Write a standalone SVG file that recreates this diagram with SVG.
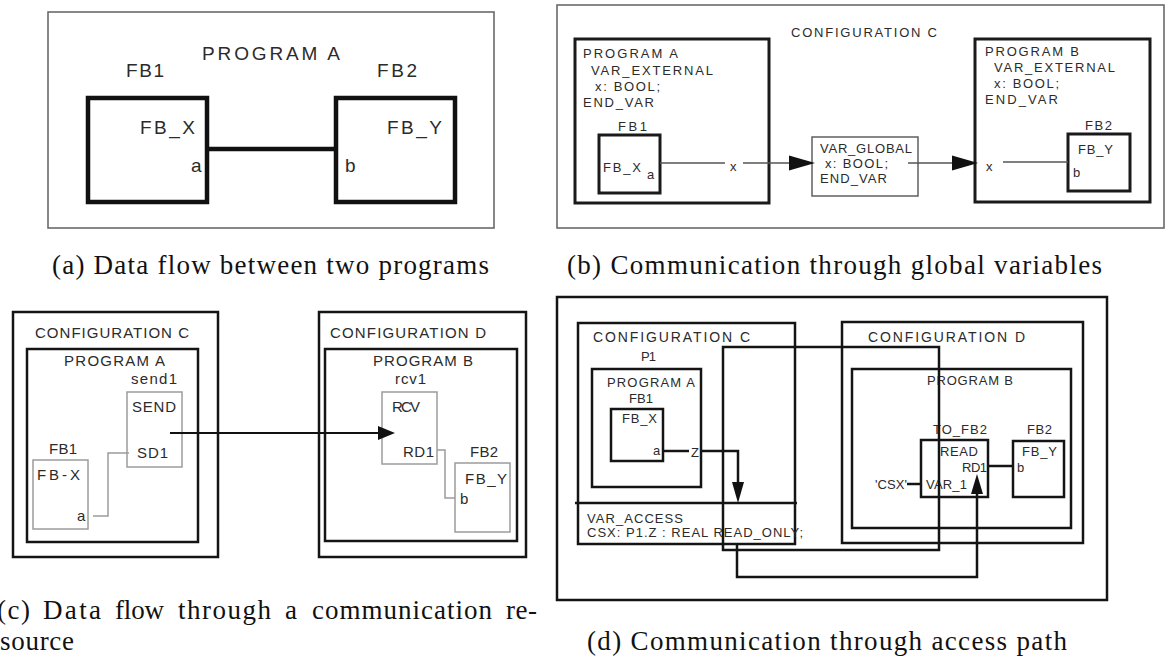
<svg xmlns="http://www.w3.org/2000/svg" width="1166" height="657" viewBox="0 0 1166 657">
  <style>
    .t{font-family:"Liberation Sans",Arial,Helvetica,sans-serif;fill:#2b2b2b}
    .cap{font-family:"Liberation Serif","Times New Roman",serif;font-size:27px;fill:#111}
    .frame{fill:none;stroke:#6a6a6a;stroke-width:1.6}
    .heavy{fill:none;stroke:#111;stroke-width:4.5}
    .bold{fill:none;stroke:#1a1a1a;stroke-width:3}
    .mid{fill:none;stroke:#141414;stroke-width:2.5}
    .thin{fill:none;stroke:#555;stroke-width:1.4}
    .faint{fill:none;stroke:#9c9c9c;stroke-width:1.5}
    .ah{fill:#111}
    .s19{font-size:19px}
    .s12{font-size:13px}
    .s15{font-size:15px}
    .s13{font-size:13px}
  </style>
  <rect width="1166" height="657" fill="#fff"/>

  <!-- ===== (a) data flow between two programs ===== -->
  <g id="a-program">
    <rect class="frame" x="48" y="12" width="446" height="216"/>
    <text class="t s19" x="202" y="60" textLength="138">PROGRAM A</text>
  </g>
  <g id="a-fb1">
    <text class="t s19" x="126" y="77" textLength="38">FB1</text>
    <rect class="heavy" x="88" y="98" width="119" height="104"/>
    <text class="t s19" x="140" y="134" textLength="55">FB_X</text>
    <text class="t s19" x="191" y="172">a</text>
  </g>
  <g id="a-fb2">
    <text class="t s19" x="377" y="77" textLength="40">FB2</text>
    <rect class="heavy" x="336" y="98" width="119" height="104"/>
    <text class="t s19" x="387" y="134" textLength="55">FB_Y</text>
    <text class="t s19" x="345" y="172">b</text>
  </g>
  <g id="a-connectors">
    <line class="heavy" x1="207" y1="149" x2="336" y2="149"/>
  </g>

  <!-- ===== (b) communication through global variables ===== -->
  <g id="b-config">
    <rect class="frame" x="557" y="5" width="607" height="223"/>
    <text class="t s12" x="791" y="37" textLength="146">CONFIGURATION C</text>
  </g>
  <g id="b-program-a">
    <rect class="bold" x="575" y="39" width="194" height="164"/>
    <text class="t s12" x="583" y="58" textLength="95">PROGRAM A</text>
    <text class="t s12" x="591" y="75" textLength="122">VAR_EXTERNAL</text>
    <text class="t s12" x="595" y="91" textLength="65">x: BOOL;</text>
    <text class="t s12" x="583" y="107" textLength="71">END_VAR</text>
  </g>
  <g id="b-fb1">
    <text class="t s12" x="618" y="131" textLength="29">FB1</text>
    <rect class="bold" x="599" y="135" width="61" height="58"/>
    <text class="t s12" x="603" y="172" textLength="38">FB_X</text>
    <text class="t s12" x="647" y="179">a</text>
  </g>
  <g id="b-var-global">
    <rect class="thin" x="812" y="137" width="106" height="59"/>
    <text class="t s12" x="820" y="153" textLength="92">VAR_GLOBAL</text>
    <text class="t s12" x="825" y="168" textLength="63">x: BOOL;</text>
    <text class="t s12" x="820" y="183" textLength="67">END_VAR</text>
  </g>
  <g id="b-program-b">
    <rect class="bold" x="975" y="39" width="175" height="163"/>
    <text class="t s12" x="985" y="56" textLength="94">PROGRAM B</text>
    <text class="t s12" x="994" y="72" textLength="121">VAR_EXTERNAL</text>
    <text class="t s12" x="994" y="88" textLength="65">x: BOOL;</text>
    <text class="t s12" x="985" y="104" textLength="73">END_VAR</text>
  </g>
  <g id="b-fb2">
    <text class="t s12" x="1085" y="130" textLength="27">FB2</text>
    <rect class="bold" x="1068" y="134" width="62" height="57"/>
    <text class="t s12" x="1078" y="154" textLength="35">FB_Y</text>
    <text class="t s12" x="1073" y="177">b</text>
  </g>
  <g id="b-connectors">
    <line class="thin" x1="660" y1="163" x2="725" y2="163"/>
    <text class="t s12" x="730" y="171">x</text>
    <line class="thin" x1="743" y1="163" x2="792" y2="163"/>
    <polygon class="ah" points="789,155.5 815,163 789,170.5"/>
    <line class="thin" x1="908" y1="163" x2="955" y2="163"/>
    <polygon class="ah" points="952,155.5 978,163 952,170.5"/>
    <text class="t s12" x="986" y="171">x</text>
    <line class="thin" x1="1003" y1="162" x2="1068" y2="162"/>
  </g>

  <!-- ===== (c) data flow through a communication resource ===== -->
  <g id="c-config-c">
    <rect class="mid" x="13" y="312" width="205" height="245"/>
    <text class="t s15" x="35" y="338" textLength="154">CONFIGURATION C</text>
  </g>
  <g id="c-program-a">
    <rect class="mid" x="27" y="349" width="171" height="193"/>
    <text class="t s15" x="64" y="366" textLength="101">PROGRAM A</text>
  </g>
  <g id="c-send1">
    <text class="t s15" x="131" y="384" textLength="46">send1</text>
    <rect class="faint" x="127" y="392" width="55" height="75"/>
    <text class="t s15" x="132" y="412" textLength="44">SEND</text>
    <text class="t s15" x="137" y="458" textLength="31">SD1</text>
  </g>
  <g id="c-fb1">
    <text class="t s15" x="49" y="454" textLength="28">FB1</text>
    <rect class="faint" x="33" y="460" width="55" height="69"/>
    <text class="t s15" x="37" y="480" textLength="43">FB-X</text>
    <text class="t s15" x="77" y="521">a</text>
  </g>
  <g id="c-config-d">
    <rect class="mid" x="319" y="312" width="207" height="245"/>
    <text class="t s15" x="330" y="338" textLength="156">CONFIGURATION D</text>
  </g>
  <g id="c-program-b">
    <rect class="mid" x="325" y="349" width="192" height="192"/>
    <text class="t s15" x="373" y="366" textLength="100">PROGRAM B</text>
  </g>
  <g id="c-rcv1">
    <text class="t s15" x="395" y="384" textLength="31">rcv1</text>
    <rect class="faint" x="382" y="392" width="55" height="72"/>
    <text class="t s15" x="392" y="412" textLength="28">RCV</text>
    <text class="t s15" x="403" y="457" textLength="31">RD1</text>
  </g>
  <g id="c-fb2">
    <text class="t s15" x="470" y="457" textLength="28">FB2</text>
    <rect class="faint" x="455" y="463" width="55" height="69"/>
    <text class="t s15" x="465" y="484" textLength="42">FB_Y</text>
    <text class="t s15" x="460" y="504">b</text>
  </g>
  <g id="c-connectors">
    <polyline class="faint" points="93,516 108,516 108,453 129,453"/>
    <line x1="170" y1="433" x2="380" y2="433" stroke="#111" stroke-width="2"/>
    <polygon class="ah" points="378,426 395,433 378,440"/>
    <polyline class="faint" points="437,450 445,450 445,498 455,498"/>
  </g>

  <!-- ===== (d) communication through access path ===== -->
  <g id="d-frame">
    <rect class="mid" x="557" y="297" width="550" height="303"/>
  </g>
  <g id="d-config-c">
    <rect class="mid" x="578" y="323" width="217" height="221"/>
    <text class="t" x="593" y="342" textLength="157" font-size="14">CONFIGURATION C</text>
    <line class="mid" x1="575" y1="503" x2="797" y2="503"/>
    <text class="t s13" x="587" y="523" textLength="96">VAR_ACCESS</text>
    <text class="t s13" x="587" y="537" textLength="216">CSX: P1.Z : REAL READ_ONLY;</text>
  </g>
  <g id="d-p1">
    <text class="t s13" x="641" y="361" textLength="15">P1</text>
    <rect class="mid" x="592" y="369" width="109" height="118"/>
    <text class="t s13" x="607" y="387" textLength="88">PROGRAM A</text>
  </g>
  <g id="d-fb1">
    <text class="t s13" x="629" y="403" textLength="24">FB1</text>
    <rect class="mid" x="611" y="409" width="52" height="52"/>
    <text class="t s13" x="622" y="423" textLength="35">FB_X</text>
    <text class="t s13" x="653" y="455">a</text>
  </g>
  <g id="d-config-d">
    <rect class="mid" x="842" y="322" width="241" height="221"/>
    <text class="t" x="868" y="342" textLength="157" font-size="14">CONFIGURATION D</text>
  </g>
  <g id="d-program-b">
    <rect class="mid" x="852" y="369" width="219" height="159"/>
    <text class="t s13" x="927" y="385" textLength="86">PROGRAM B</text>
  </g>
  <g id="d-to-fb2">
    <text class="t s13" x="933" y="434" textLength="54">TO_FB2</text>
    <rect class="mid" x="921" y="440" width="67" height="57"/>
    <text class="t s13" x="940" y="456" textLength="38">READ</text>
    <text class="t s13" x="962" y="472" textLength="25">RD1</text>
    <text class="t s13" x="926" y="489" textLength="41">VAR_1</text>
    <text class="t s13" x="875" y="489" textLength="32">'CSX'</text>
  </g>
  <g id="d-fb2">
    <text class="t s13" x="1027" y="434" textLength="25">FB2</text>
    <rect class="mid" x="1013" y="441" width="51" height="56"/>
    <text class="t s13" x="1022" y="456" textLength="35">FB_Y</text>
    <text class="t s13" x="1017" y="472">b</text>
  </g>
  <g id="d-connectors">
    <line class="mid" x1="663" y1="451" x2="689" y2="451"/>
    <text class="t s13" x="691" y="457">Z</text>
    <polyline class="mid" points="700,451 738,451 738,484"/>
    <polygon class="ah" points="732,482 744,482 738,503"/>
    <rect class="mid" x="723" y="347" width="216" height="203"/>
    <line class="mid" x1="907" y1="484" x2="921" y2="484"/>
    <polyline class="mid" points="737,544 737,577 977,577 977,494"/>
    <polygon class="ah" points="971,494 983,494 977,474"/>
    <line class="mid" x1="988" y1="466" x2="1013" y2="466"/>
  </g>

  <!-- ===== captions ===== -->
  <g id="captions">
    <text class="cap" x="52" y="274" textLength="437">(a) Data flow between two programs</text>
    <text class="cap" x="567" y="274" textLength="535">(b) Communication through global variables</text>
    <text class="cap" y="619">
      <tspan x="-3" textLength="33">(c)</tspan>
      <tspan x="43" textLength="58">Data</tspan>
      <tspan x="115" textLength="49">flow</tspan>
      <tspan x="178" textLength="93">through</tspan>
      <tspan x="285" textLength="13">a</tspan>
      <tspan x="312" textLength="180">communication</tspan>
      <tspan x="506" textLength="31">re-</tspan>
    </text>
    <text class="cap" x="0" y="650" textLength="74">source</text>
    <text class="cap" x="587" y="650" textLength="480">(d) Communication through access path</text>
  </g>
</svg>
